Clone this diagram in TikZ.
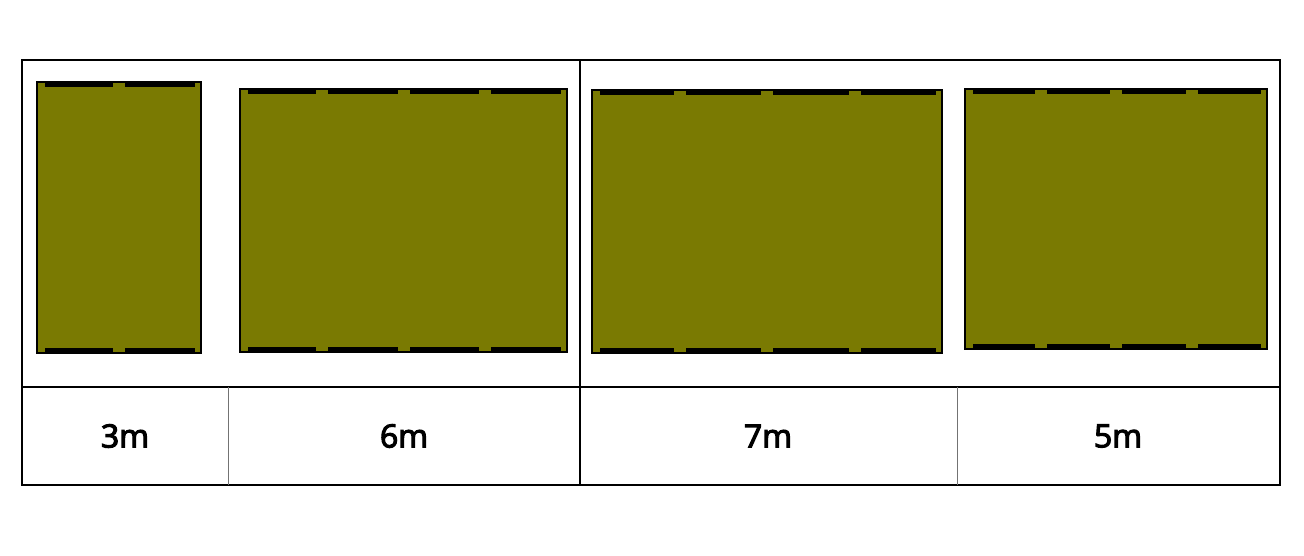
\documentclass[tikz,border=0pt]{standalone}
\usepackage{fontspec}
\setmainfont{Open Sans}
\newfontfamily\labfont{Open Sans}[BoldFont={Open Sans}, BoldFeatures={FakeBold=3.5}]
\usetikzlibrary{calc}
\usetikzlibrary{positioning}
\definecolor{olivefill}{RGB}{122,122,2}

\begin{document}
\begin{tikzpicture}[x=1pt, y=-1pt, every node/.style={inner sep=0pt, outer sep=0pt},
 panel/.style={draw=black, line width=1.8pt, fill=olivefill, anchor=north west},
 bar/.style={draw=black, line width=4pt},
 frame/.style={draw=black, line width=2pt},
 cut/.style={draw=black!55, line width=0.8pt},
 lab/.style={font=\labfont\bfseries\fontsize{32}{40}\selectfont}
]
\useasboundingbox (0,0) rectangle (1304,556);
 \tikzstyle{tick}=[fill=olivefill];
% panels
\node[panel, minimum width=164pt, minimum height=271pt] (p1) at (37,82) {};
\node[panel, minimum width=327pt, minimum height=263pt] (p2) at (240,89) {};
\node[panel, minimum width=350pt, minimum height=263pt] (p3) at (592,90) {};
\node[panel, minimum width=302pt, minimum height=260pt] (p4) at (965,89) {};
\foreach \p/\n/\m in {p1/2/1, p2/4/3, p3/4/3, p4/4/3}{
 \draw[bar] ($(\p.north west)+(8,2.8)$) -- ($(\p.north east)+(-6,2.8)$);
 \draw[bar] ($(\p.south west)+(8,-2.8)$) -- ($(\p.south east)+(-6,-2.8)$);
 \foreach \k in {1,...,\m}{
 \pgfmathsetmacro\fr{\k/\n}
 \fill[tick] ($(\p.north west)!\fr!(\p.north east)+(-6,0.9)$) rectangle ++(12,4.5);
 \fill[tick] ($(\p.south west)!\fr!(\p.south east)+(-6,-0.9)$) rectangle ++(12,-4.5);
 }
}
% frame and table
\coordinate (tl) at (22,60);
\coordinate (br) at (1280,485);
\coordinate (ml) at (22,387);
\coordinate (mr) at (1280,387);
\coordinate (mt) at (580,60);
\coordinate (mb) at (580,485);
\coordinate (c1t) at (228,387);
\coordinate (c1b) at (228,485);
\coordinate (c2t) at (957,387);
\coordinate (c2b) at (957,485);
\draw[frame] (tl) rectangle (br);
\draw[frame] (ml) -- (mr);
\draw[frame] (mt) -- (mb);
\draw[cut] (c1t) -- (c1b);
\draw[cut] (c2t) -- (c2b);
% labels
\node[lab] (l3) at (125,436) {3m};
\node[lab] (l6) at (404,436) {6m};
\node[lab] (l7) at (768,436) {7m};
\node[lab] (l5) at (1118,436) {5m};

\end{tikzpicture}
\end{document}
